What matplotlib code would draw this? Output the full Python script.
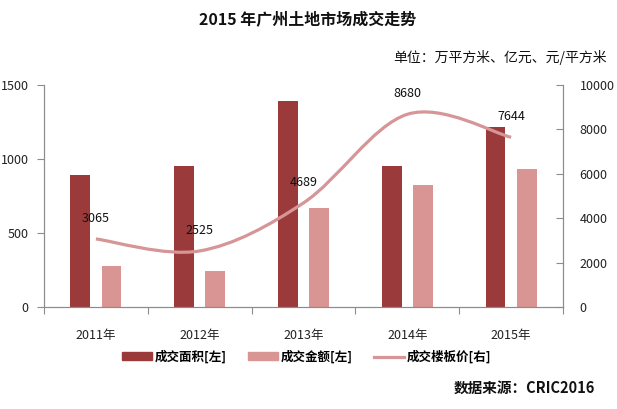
import numpy as np
import matplotlib
matplotlib.use('Agg')
import matplotlib.pyplot as plt
from matplotlib.path import Path
from matplotlib.patches import PathPatch, Patch
from matplotlib.lines import Line2D

plt.rcParams['font.family'] = ['Noto Sans CJK SC', 'DejaVu Sans']

years = ['2011年', '2012年', '2013年', '2014年', '2015年']
area = [892, 953, 1392, 953, 1214]          # 成交面积 万平方米
amount = [277, 243, 669, 824, 932]         # 成交金额 亿元
price = [3065, 2525, 4689, 8680, 7644]     # 成交楼板价 元/平方米

c_dark = '#9b3a3b'
c_light = '#d99594'
c_line = '#d69596'
c_axis = '#8c8c8c'


def smooth_path(xs, ys):
    # excel style smoothed line: cubic bezier through the points
    pts = np.column_stack([xs, ys]).astype(float)
    n = len(pts)
    verts = [pts[0]]
    codes = [Path.MOVETO]
    for i in range(n - 1):
        p0 = pts[i - 1] if i > 0 else pts[i]
        p1 = pts[i]
        p2 = pts[i + 1]
        p3 = pts[i + 2] if i + 2 < n else pts[i + 1]
        verts += [p1 + (p2 - p0) / 6, p2 - (p3 - p1) / 6, p2]
        codes += [Path.CURVE4] * 3
    return Path(verts, codes)


fig = plt.figure(figsize=(6.17, 4.09), dpi=100)
ax = fig.add_axes([0.0713, 0.2494, 0.8412, 0.5428])
ax2 = ax.twinx()

x = np.arange(len(years))
w = 0.19
ax.bar(x - 0.15, area, w, color=c_dark, zorder=2)
ax.bar(x + 0.15, amount, w, color=c_light, zorder=2)

ax2.add_patch(PathPatch(smooth_path(x, price), facecolor='none',
                        edgecolor=c_line, lw=2.3, capstyle='butt'))
for xi, p in zip(x, price):
    ax2.annotate(str(p), (xi, p), xytext=(0, 10), textcoords='offset points',
                 ha='center', va='bottom', fontsize=9, color='#111111')

ax.set_xlim(-0.5, 4.5)
ax.set_ylim(0, 1500)
ax.set_yticks([0, 500, 1000, 1500])
ax2.set_ylim(0, 10000)
ax2.set_yticks(range(0, 10001, 2000))

ax.set_xticks(np.arange(-0.5, 4.6, 1.0))
ax.set_xticklabels([])
ax.set_xticks(x, minor=True)
ax.set_xticklabels(years, minor=True)
ax.tick_params(axis='x', which='minor', length=0, pad=16, labelsize=9, labelcolor='#222222')
ax.tick_params(axis='x', which='major', length=5, color=c_axis, direction='out')
ax.tick_params(axis='y', length=5, color=c_axis, direction='out', labelsize=9,
               labelcolor='#222222', pad=6)
ax2.tick_params(axis='y', length=5, color=c_axis, direction='in', labelsize=9,
                labelcolor='#222222', pad=12)

for a in (ax, ax2):
    a.spines['top'].set_visible(False)
    for s in ('left', 'right', 'bottom'):
        a.spines[s].set_color(c_axis)
ax.set_zorder(ax2.get_zorder() - 1)
ax2.patch.set_visible(False)
ax.patch.set_visible(False)

fig.text(0.498, 0.951, '2015 年广州土地市场成交走势', ha='center', va='center',
         fontsize=11.5, fontweight='bold', color='#111111')
fig.text(0.983, 0.860, '单位：万平方米、亿元、元/平方米', ha='right', va='center',
         fontsize=10, color='#111111')

handles = [Patch(color=c_dark), Patch(color=c_light),
           Line2D([0], [0], color=c_line, lw=2.3)]
labels = ['成交面积[左]', '成交金额[左]', '成交楼板价[右]']
fig.legend(handles, labels, loc='center', bbox_to_anchor=(0.497, 0.127), ncol=3,
           frameon=False, prop={'size': 9, 'weight': 'bold'}, handlelength=2.4,
           handleheight=0.6, handletextpad=0.2, columnspacing=1.7)

fig.text(0.965, 0.051, '数据来源：CRIC2016', ha='right', va='center',
         fontsize=10.5, fontweight='bold', color='#111111')

fig.savefig('out.png', dpi=100)
